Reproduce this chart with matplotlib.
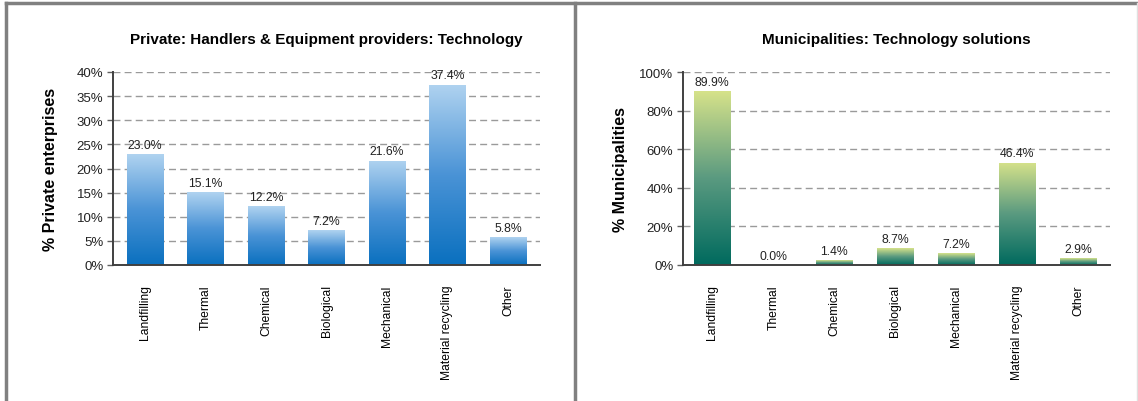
import numpy as np
import matplotlib
matplotlib.use('Agg')
import matplotlib.pyplot as plt
from matplotlib.colors import LinearSegmentedColormap
from matplotlib.lines import Line2D

plt.rcParams['font.family'] = ['Liberation Sans', 'DejaVu Sans']

# Данные
categories = ['Landfilling', 'Thermal', 'Chemical', 'Biological', 'Mechanical',
              'Material recycling', 'Other']
private_values = [23.0, 15.1, 12.2, 7.2, 21.6, 37.4, 5.8]
private_labels = ['23.0%', '15.1%', '12.2%', '7.2%', '21.6%', '37.4%', '5.8%']
# высоты столбиков на исходном графике не всегда совпадают с подписями
muni_values = [89.9, 0.0, 2.5, 8.7, 6.2, 53.0, 3.6]
muni_labels = ['89.9%', '0.0%', '1.4%', '8.7%', '7.2%', '46.4%', '2.9%']

W, H = 1138, 402
fig = plt.figure(figsize=(W / 100, H / 100), dpi=100)


def px_axes(x0, y_top, x1, y_bot):
    return fig.add_axes([x0 / W, 1 - y_bot / H, (x1 - x0) / W, (y_bot - y_top) / H])


def gradient_bars(ax, values, cmap, xlim):
    x = np.arange(len(values))
    bars = ax.bar(x, values, width=0.6, color='none', edgecolor='none', zorder=2)
    grad = np.linspace(0, 1, 256).reshape(-1, 1)
    for b in bars:
        if b.get_height() <= 0:
            continue
        x0, w, h = b.get_x(), b.get_width(), b.get_height()
        im = ax.imshow(grad, cmap=cmap, aspect='auto', origin='lower',
                       extent=[x0, x0 + w, 0, h], zorder=2)
        im.set_clip_path(b)
    ax.set_xlim(*xlim)
    return x


def style(ax, ymax, step, title, ylabel):
    ax.set_ylim(0, ymax)
    ticks = np.arange(0, ymax + step / 2, step)
    ax.set_yticks(ticks)
    ax.set_yticklabels([f'{t:.0f}%' for t in ticks], fontsize=9.5, color='#222222')
    for t in ticks[1:]:
        ax.axhline(t, color='#9a9a9a', lw=1.0, ls=(0, (5, 3)), zorder=1)
    for s in ['top', 'right']:
        ax.spines[s].set_visible(False)
    for s in ['left', 'bottom']:
        ax.spines[s].set_color('#404040')
        ax.spines[s].set_linewidth(1.4)
        ax.spines[s].set_zorder(3)
    ax.tick_params(axis='y', length=4, width=1, color='#606060', pad=3)
    ax.tick_params(axis='x', length=0, pad=14)
    ax.set_xticks(range(len(categories)))
    ax.set_xticklabels(categories, rotation=90, fontsize=8.7, va='top', ha='center')
    ax.set_ylabel(ylabel, fontsize=11.5, fontweight='bold')
    ax.yaxis.set_label_coords(-0.128, 0.5)
    x0, x1 = ax.get_position().x0, ax.get_position().x1
    fig.text((x0 + x1) / 2, 1 - 40 / H, title, fontsize=11, fontweight='bold',
             ha='center', va='center')


def value_labels(ax, x, heights, labels):
    for xi, h, lab in zip(x, heights, labels):
        ax.annotate(lab, (xi, h), xytext=(0, 2.5), textcoords='offset points',
                    ha='center', va='bottom', fontsize=8.8, color='#222222')


blue = LinearSegmentedColormap.from_list('blue', ['#0a70bf', '#4a93d6', '#b0d3f0'])
green = LinearSegmentedColormap.from_list('green', ['#006a5e', '#5a9a80', '#d6e28a'])

# Левый график
ax1 = px_axes(113, 73, 540, 266)
x = gradient_bars(ax1, private_values, blue, (-0.53, 6.53))
style(ax1, 40, 5, 'Private: Handlers & Equipment providers: Technology',
      '% Private enterprises')
value_labels(ax1, x, private_values, private_labels)

# Правый график
ax2 = px_axes(683, 73, 1110, 266)
x = gradient_bars(ax2, muni_values, green, (-0.48, 6.52))
style(ax2, 100, 20, 'Municipalities: Technology solutions', '% Municipalities')
value_labels(ax2, x, muni_values, muni_labels)

# Рамка
frame = dict(color='#808080', lw=2.5, transform=fig.transFigure)
fig.add_artist(Line2D([6 / W, 1], [1 - 4 / H, 1 - 4 / H], **frame))
fig.add_artist(Line2D([6 / W, 6 / W], [0, 1 - 4 / H], **frame))
fig.add_artist(Line2D([574.5 / W, 574.5 / W], [0, 1 - 4 / H], **frame))
fig.add_artist(Line2D([1137 / W, 1137 / W], [0, 1 - 4 / H], color='#e0e0e0', lw=1,
                      transform=fig.transFigure))

fig.savefig('out.png', dpi=100)
